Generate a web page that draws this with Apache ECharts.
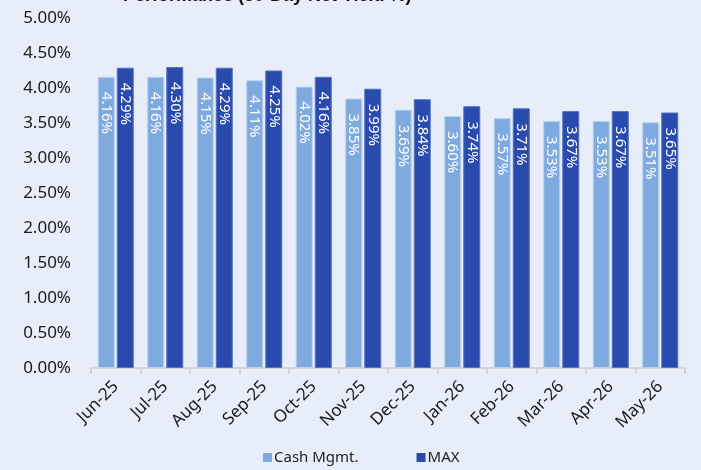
<!DOCTYPE html>
<html>
<head>
<meta charset="utf-8">
<script src="https://cdn.jsdelivr.net/npm/echarts@6/dist/echarts.min.js"></script>
<style>
  html, body { margin: 0; padding: 0; background: #E8EEF9; }
  #chart { width: 701px; height: 470px; }
</style>
</head>
<body>
<div id="chart"></div>
<script>
const months = ['Jun-25', 'Jul-25', 'Aug-25', 'Sep-25', 'Oct-25', 'Nov-25',
  'Dec-25', 'Jan-26', 'Feb-26', 'Mar-26', 'Apr-26', 'May-26'];
const cashMgmt = [4.16, 4.16, 4.15, 4.11, 4.02, 3.85, 3.69, 3.60, 3.57, 3.53, 3.53, 3.51];
const maxYield = [4.29, 4.30, 4.29, 4.25, 4.16, 3.99, 3.84, 3.74, 3.71, 3.67, 3.67, 3.65];

const font = '"Noto Sans", sans-serif';

const barLabel = {
  show: true,
  position: 'insideTop',
  distance: 15,
  rotate: -90,
  align: 'left',
  verticalAlign: 'middle',
  color: '#fff',
  fontSize: 15,
  fontFamily: font,
  formatter: p => p.value.toFixed(2) + '%'
};

const chart = echarts.init(document.getElementById('chart'));
chart.setOption({
  backgroundColor: '#E8EEF9',
  animation: false,
  title: {
    text: 'Performance (30-Day Net Yield %)',
    left: 118,
    top: -18,
    textStyle: { fontFamily: 'Liberation Sans, Arial', fontWeight: 'bold', fontSize: 18, color: '#111' }
  },
  legend: {
    bottom: 0,
    left: 258,
    itemWidth: 9,
    itemHeight: 9,
    itemGap: 58,
    icon: 'rect',
    itemStyle: { borderWidth: 0 },
    textStyle: { fontFamily: font, fontSize: 15, color: '#222', padding: [0, 0, 0, -3] },
    data: ['Cash Mgmt.', 'MAX']
  },
  grid: { left: 91, right: 16, top: 18, bottom: 102 },
  xAxis: {
    type: 'category',
    data: months,
    axisLine: { lineStyle: { color: '#d4d4d4', width: 2 } },
    axisTick: { show: true, length: 6, lineStyle: { color: '#d4d4d4', width: 2 } },
    axisLabel: {
      rotate: 45,
      interval: 0,
      margin: 16,
      color: '#1a1a1a',
      fontFamily: font,
      fontSize: 17
    }
  },
  yAxis: {
    type: 'value',
    min: 0,
    max: 5,
    interval: 0.5,
    splitLine: { show: false },
    axisLine: { show: false },
    axisTick: { show: false },
    axisLabel: {
      margin: 20,
      color: '#1a1a1a',
      fontFamily: font,
      fontSize: 17,
      formatter: v => v.toFixed(2) + '%'
    }
  },
  series: [
    {
      name: 'Cash Mgmt.',
      type: 'bar',
      data: cashMgmt,
      barWidth: 17,
      barGap: '12%',
      itemStyle: { color: '#7FAADF', borderColor: '#B9D0EF', borderWidth: 1 },
      label: barLabel
    },
    {
      name: 'MAX',
      type: 'bar',
      data: maxYield,
      barWidth: 17,
      itemStyle: { color: '#2A4BAE', borderColor: '#5570C4', borderWidth: 1 },
      label: barLabel
    }
  ]
});
</script>
</body>
</html>
